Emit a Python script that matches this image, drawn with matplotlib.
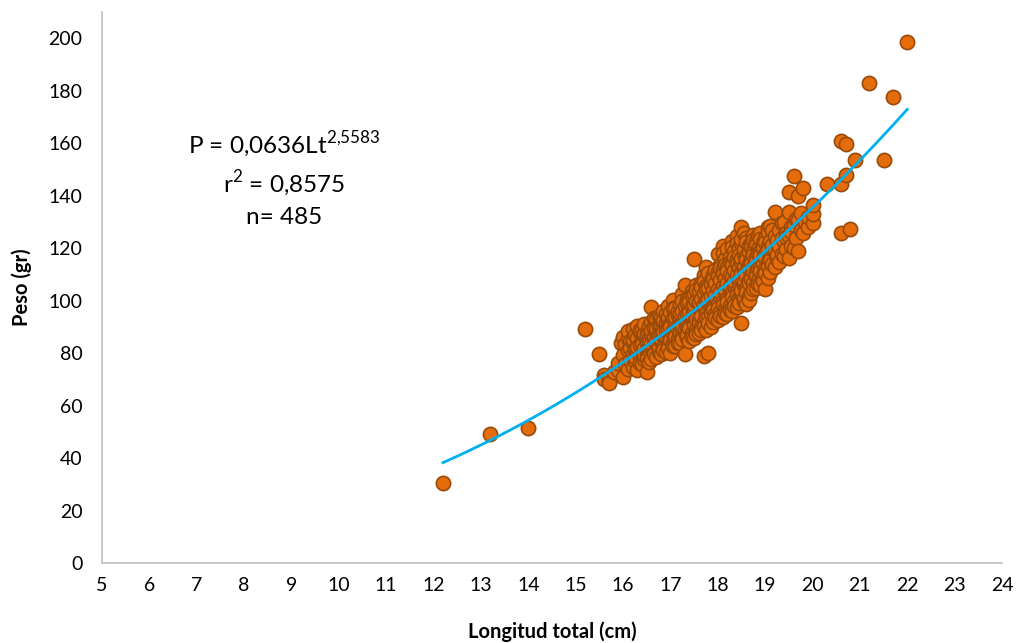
import numpy as np
import matplotlib.pyplot as plt

plt.rcParams['font.family'] = ['Lato', 'DejaVu Sans']
plt.rcParams['mathtext.fontset'] = 'custom'
plt.rcParams['mathtext.rm'] = 'Lato'

# Total length (cm) groups and the weights (g) measured in each group
length_groups = [12.2, 13.2, 14.0, 15.2, 15.5, 15.6, 15.7, 15.8, 15.9, 15.95,
                 16.0, 16.05, 16.1, 16.15, 16.2, 16.25, 16.3, 16.35, 16.4, 16.45,
                 16.5, 16.55, 16.6, 16.65, 16.7, 16.75, 16.8, 16.85, 16.9, 16.95,
                 17.0, 17.05, 17.1, 17.15, 17.2, 17.25, 17.3, 17.35, 17.4, 17.45,
                 17.5, 17.55, 17.6, 17.65, 17.7, 17.75, 17.8, 17.85, 17.9, 17.95,
                 18.0, 18.05, 18.1, 18.15, 18.2, 18.25, 18.3, 18.35, 18.4, 18.45,
                 18.5, 18.55, 18.6, 18.65, 18.7, 18.75, 18.8, 18.85, 18.9, 18.95,
                 19.0, 19.05, 19.1, 19.15, 19.2, 19.25, 19.3, 19.35, 19.4, 19.45,
                 19.5, 19.55, 19.6, 19.65, 19.7, 19.75, 19.8, 19.85, 19.9, 20.0,
                 20.3, 20.6, 20.7, 20.8, 20.9, 21.2, 21.5, 21.7, 22.0]

weight_groups = [
    [30.5], [49.0], [51.5], [89.0], [79.6],
    [71.5, 70.0], [69.0, 70.4, 68.5], [72.8], [73.5, 76.2], [84.0],
    [71.0, 79.3, 86.1], [75.8, 83.6],
    [73.9, 81.2, 85.9, 88.3], [77.5, 84.7, 82.0],
    [74.8, 79.8, 83.9, 89.2, 85.1], [76.9, 81.7, 86.8, 78.4],
    [73.6, 80.9, 85.6, 90.4, 82.4], [78.7, 83.2, 87.9, 76.1, 88.8],
    [75.9, 80.3, 84.8, 89.3, 83.5], [77.8, 82.1, 86.9, 79.1, 87.6, 91.0],
    [72.8, 79.4, 83.8, 88.1, 78.2, 86.7], [76.7, 81.3, 85.9, 90.2, 82.6, 84.4],
    [77.9, 82.8, 87.3, 91.8, 97.5, 83.9, 88.7], [80.2, 84.9, 89.4, 79.6, 86.1, 93.2],
    [78.6, 83.7, 88.2, 92.9, 84.5, 89.6], [81.1, 85.8, 90.3, 80.4, 87.0, 94.1, 82.2],
    [79.7, 84.6, 89.1, 93.8, 85.5, 90.7, 87.4], [82.3, 86.9, 91.4, 96.2, 81.0, 88.0, 92.5],
    [80.6, 85.8, 90.1, 94.9, 86.4, 91.6, 88.6], [83.0, 87.7, 92.3, 97.8, 82.1, 89.2, 93.7],
    [80.2, 86.6, 91.2, 95.8, 85.1, 90.0], [83.9, 88.9, 93.4, 100.2, 82.7, 87.8, 97.1],
    [82.8, 87.9, 92.4, 97.3, 86.6, 93.6], [85.3, 90.2, 94.7, 84.0, 89.1, 96.0],
    [83.7, 89.0, 93.9, 98.8, 87.7, 95.2], [86.8, 91.3, 96.1, 102.6, 85.2, 90.4, 99.9],
    [79.8, 88.2, 92.7, 97.9, 105.9, 89.3, 94.3], [85.9, 90.1, 95.0, 100.8, 87.0, 91.8, 99.1],
    [84.8, 90.8, 95.7, 100.9, 89.5, 99.6], [87.6, 92.9, 98.1, 103.8, 86.3, 94.2, 102.2],
    [85.6, 91.7, 96.9, 102.7, 115.8, 90.6, 98.4], [88.9, 94.0, 99.8, 105.8, 87.4, 93.1, 104.2],
    [87.5, 92.6, 98.7, 103.7, 91.2, 99.5], [89.8, 95.6, 100.6, 106.9, 88.8, 94.1, 105.1],
    [78.9, 91.9, 97.6, 102.9, 109.8, 90.3, 98.9, 107.5], [88.7, 94.8, 99.7, 105.6, 112.9, 93.3, 104.3],
    [80.0, 93.6, 99.6, 104.7, 91.4, 100.7, 110.6], [89.9, 96.7, 101.8, 107.8, 95.1, 106.2],
    [91.8, 97.7, 103.9, 109.7, 96.3, 108.3], [94.9, 100.9, 106.8, 93.2, 102.1, 111.8],
    [92.6, 98.6, 104.6, 110.8, 117.9, 97.3, 109.2], [95.8, 101.7, 107.9, 113.7, 94.1, 103.2, 112.4],
    [93.7, 99.9, 105.7, 111.9, 120.8, 98.4, 110.3, 118.2], [96.7, 102.8, 108.8, 115.8, 95.2, 104.3, 113.6],
    [94.8, 100.8, 106.7, 112.8, 119.8, 99.3, 111.4], [97.9, 103.9, 109.9, 116.7, 96.4, 105.4, 114.6],
    [95.9, 102.9, 108.9, 114.9, 122.7, 101.2, 113.5, 120.5], [99.7, 105.8, 111.7, 118.8, 97.8, 107.3, 116.8],
    [97.6, 103.8, 109.8, 115.7, 124.8, 102.3, 114.1, 122.1], [100.9, 106.9, 112.9, 119.9, 99.2, 108.4, 117.5],
    [91.4, 102.8, 108.7, 114.8, 121.8, 128.0, 104.2, 110.5, 116.4, 123.4],
    [99.8, 105.9, 111.8, 117.9, 125.9, 101.1, 107.4, 113.2, 119.6],
    [98.8, 104.9, 110.9, 116.9, 123.8, 103.4, 109.5, 115.4, 122.2],
    [101.9, 107.8, 113.8, 120.9, 100.3, 106.6, 112.3, 118.4],
    [102.8, 109.9, 115.9, 121.9, 108.3, 114.5, 120.4], [106.8, 112.8, 118.9, 124.9, 104.5, 111.4, 117.3, 123.2],
    [104.8, 110.8, 116.8, 122.8, 109.3, 115.2, 121.1], [107.9, 113.9, 119.8, 106.4, 112.4, 118.1, 125.1],
    [105.9, 112.9, 118.7, 125.8, 111.3, 117.4, 123.6], [109.8, 115.8, 121.8, 107.6, 114.2, 120.2],
    [104.4, 111.9, 117.8, 123.9, 110.4, 116.3, 122.5], [108.8, 114.8, 120.7, 127.9, 113.1, 119.2, 126.2],
    [110.8, 116.7, 122.9, 115.3, 128.6], [113.8, 119.7, 126.8, 121.3],
    [112.9, 118.9, 124.8, 133.7], [115.8, 121.7, 117.3, 123.2],
    [114.8, 120.8, 126.9], [117.9, 123.9, 129.4],
    [116.9, 122.8, 129.8], [119.8, 125.9, 124.3],
    [116.2, 124.7, 133.8, 141.3], [120.9, 127.9, 126.3],
    [119.9, 128.9, 147.4], [123.8, 131.2],
    [119.0, 130.9, 139.8], [126.8, 133.5],
    [125.7, 142.9], [129.8],
    [127.9, 131.9], [129.5, 132.9, 136.4],
    [144.4], [125.7, 144.5, 160.9], [147.9, 159.6], [127.2], [153.5],
    [183.0], [153.5], [177.5], [198.7],
]

# Power fit reported for the sample
fit_a = 0.0636
fit_b = 2.5583
fit_r2 = 0.8575
n_fish = 485

length_cm = np.concatenate([[L] * len(w) for L, w in zip(length_groups, weight_groups)])
weight_g = np.concatenate(weight_groups)

fig = plt.figure(figsize=(10.16, 6.43), dpi=100)
ax = fig.add_axes([0.1004, 0.1244, 0.8858, 0.8569])

ax.scatter(length_cm, weight_g, s=105, color='#E46C0A', edgecolor='#9A4A08',
           linewidth=1.2, zorder=2)

# trend line over the measured length range
Lfit = np.linspace(min(length_cm), max(length_cm), 200)
ax.plot(Lfit, fit_a * Lfit ** fit_b, color='#00B0F0', linewidth=2, zorder=3)

ax.set_xlim(5, 24)
ax.set_ylim(0, 210)
ax.set_xticks(range(5, 25))
ax.set_yticks(range(0, 201, 20))
ax.tick_params(length=0, labelsize=14, colors='#000000')
ax.tick_params(axis='x', pad=10)
ax.tick_params(axis='y', pad=14)

for side in ['top', 'right']:
    ax.spines[side].set_visible(False)
for side in ['left', 'bottom']:
    ax.spines[side].set_color('#BFBFBF')
    ax.spines[side].set_linewidth(1.2)

ax.set_xlabel('Longitud total (cm)', fontsize=14.5, fontweight='bold', labelpad=20)
ax.set_ylabel('Peso (gr)', fontsize=14.5, fontweight='bold', labelpad=12)

ax.text(8.85, 159.5, 'P = 0,0636Lt$^{\\mathregular{2{,}5583}}$', fontsize=17.5,
        ha='center', va='center')
ax.text(8.85, 144.5, 'r$^{\\mathregular{2}}$ = ' + str(fit_r2).replace('.', ','),
        fontsize=17.5, ha='center', va='center')
ax.text(8.85, 131.5, 'n= ' + str(n_fish), fontsize=17.5, ha='center', va='center')

fig.savefig('out.png', dpi=100)
